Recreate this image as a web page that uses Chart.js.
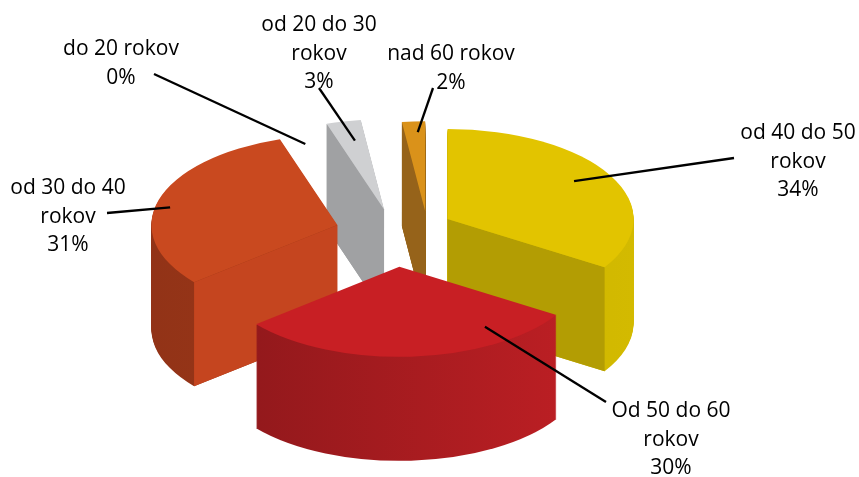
<!DOCTYPE html>
<html>
<head>
<meta charset="utf-8">
<title>Vekové skupiny</title>
<style>
    html, body { margin: 0; padding: 0; background: #fff; }
    #wrap { width: 859px; height: 477px; position: relative; }
</style>
</head>
<body>
<div id="wrap"><canvas id="canvasChart"></canvas></div>

<script src="https://cdn.jsdelivr.net/npm/chart.js"></script>
<script>
    // slices listed clockwise, starting at 12 o'clock
    const categories = ['od 40 do 50 rokov', 'Od 50 do 60 rokov', 'od 30 do 40 rokov', 'do 20 rokov', 'od 20 do 30 rokov', 'nad 60 rokov'];
    const shares = [34, 30, 31, 0, 3, 2];
    const labelLines = [['od 40 do 50', 'rokov'], ['Od 50 do 60', 'rokov'], ['od 30 do 40', 'rokov'], ['do 20 rokov'], ['od 20 do 30', 'rokov'], ['nad 60 rokov']];

    // look of the slices
    const topColors  = ['#E2C400', '#C81F24', '#C9491F', '#999999', '#CFD0D2', '#DA921A'];
    const sideColors = ['#B39D03', '#A81C20', '#C5451F', '#999999', '#A0A1A3', '#96631A'];
    const wallColors = [['#C2AA00', '#D3BA00'], ['#8E181B', '#BE1F24'], ['#923317', '#A53B1A'],
                        ['#999999', '#999999'], ['#9A9B9D', '#A6A7A9'], ['#8E5E14', '#9C6816']];
    const explode = [60, 70, 60, 0, 50, 45];   // pull-out of each slice, px
    const shiftX = [0, 0, 0, 0, 0, 33];        // extra sideways nudge (perspective in the original)
    const TILT = 0.484;                         // vertical squash of the top face
    const DEPTH = 104;                          // height of the cylinder, px

    // label placement: centre x / first baseline, start of the leader line,
    // and where the line meets the slice (degrees off the mid angle, fraction of radius)
    const labelAt = [[798, 139], [671, 417], [68, 194], [121, 55], [319, 31], [451, 60]];
    const lineFrom = [[734, 158], [606, 402], [107, 213], [154, 74], [319, 88], [433, 88]];
    const anchorShift = [-3, -31, -4, -8, 1, 1];
    const anchorRadius = [0.8, 0.81, 0.92, 1.1, 0.78, 0.88];
    const LINE_H = 28.5;

    function midAngle(arc) {
        return (arc.startAngle + arc.endAngle) / 2;
    }

    // centre of a pulled-out slice on the screen
    function apex(arc, i) {
        const m = midAngle(arc);
        return [arc.x + explode[i] * Math.cos(m) + shiftX[i], arc.y + TILT * explode[i] * Math.sin(m)];
    }

    // draw the library's arc element squashed, pulled out and shifted down by dy
    function paintArc(ctx, arc, i, fill, dy) {
        const m = midAngle(arc);
        ctx.save();
        ctx.translate(shiftX[i], dy);
        ctx.translate(arc.x, arc.y);
        ctx.scale(1, TILT);
        ctx.translate(-arc.x + explode[i] * Math.cos(m), -arc.y + explode[i] * Math.sin(m));
        if (Array.isArray(fill)) {
            const g = ctx.createLinearGradient(arc.x - arc.outerRadius, 0, arc.x + arc.outerRadius, 0);
            g.addColorStop(0, fill[0]);
            g.addColorStop(1, fill[1]);
            fill = g;
        }
        const saved = arc.options;
        arc.options = Object.assign({}, saved, {backgroundColor: fill, borderWidth: 0});
        arc.draw(ctx);
        arc.options = saved;
        ctx.restore();
    }

    // the flat cut faces of a pulled-out slice that look towards the viewer
    function paintCuts(ctx, arc, i) {
        const R = arc.outerRadius;
        const [ax, ay] = apex(arc, i);
        [[arc.startAngle, -1], [arc.endAngle, 1]].forEach(function(edge) {
            const t = edge[0];
            const visible = edge[1] < 0 ? Math.cos(t) < -1e-6 : Math.cos(t) > 1e-6;
            if (!visible) return;
            const bx = ax + R * Math.cos(t);
            const by = ay + TILT * R * Math.sin(t);
            ctx.beginPath();
            ctx.moveTo(ax, ay);
            ctx.lineTo(bx, by);
            ctx.lineTo(bx, by + DEPTH);
            ctx.lineTo(ax, ay + DEPTH);
            ctx.closePath();
            ctx.fillStyle = sideColors[i];
            ctx.fill();
        });
    }

    const pie3d = {
        id: 'pie3d',
        beforeDatasetsDraw(chart) {
            const ctx = chart.ctx;
            const arcs = chart.getDatasetMeta(0).data;
            // back slices first
            const order = arcs.map((a, i) => i).filter(i => shares[i] > 0)
                .sort((a, b) => Math.sin(midAngle(arcs[a])) - Math.sin(midAngle(arcs[b])));
            order.forEach(function(i) {
                const arc = arcs[i];
                for (let d = DEPTH; d >= 1; d--) {
                    paintArc(ctx, arc, i, wallColors[i], d);
                }
                paintCuts(ctx, arc, i);
                paintArc(ctx, arc, i, topColors[i], 0);
            });
            return false;
        },
        afterDraw(chart) {
            const ctx = chart.ctx;
            const arcs = chart.getDatasetMeta(0).data;
            ctx.save();
            ctx.font = '21px "Open Sans"';
            ctx.fillStyle = '#000';
            ctx.textAlign = 'center';
            ctx.textBaseline = 'alphabetic';
            arcs.forEach(function(arc, i) {
                const lines = labelLines[i].concat(shares[i] + '%');
                lines.forEach(function(t, j) {
                    ctx.fillText(t, labelAt[i][0], labelAt[i][1] + j * LINE_H);
                });
                const a = midAngle(arc) + anchorShift[i] * Math.PI / 180;
                const r = anchorRadius[i] * arc.outerRadius;
                const [ax, ay] = apex(arc, i);
                ctx.beginPath();
                ctx.moveTo(lineFrom[i][0], lineFrom[i][1]);
                ctx.lineTo(ax + r * Math.cos(a), ay + TILT * r * Math.sin(a));
                ctx.lineWidth = 2.3;
                ctx.strokeStyle = '#000';
                ctx.stroke();
            });
            ctx.restore();
        }
    };

    const chart = new Chart(document.getElementById('canvasChart'), {
        type: 'pie',
        data: {
            labels: categories,
            datasets: [{
                data: shares,
                backgroundColor: topColors,
                borderWidth: 0,
                radius: 186
            }]
        },
        options: {
            responsive: true,
            maintainAspectRatio: false,
            animation: false,
            events: [],
            layout: { padding: { left: 0, right: 69, top: 0, bottom: 11 } },
            plugins: {
                legend: { display: false },
                tooltip: { enabled: false }
            }
        },
        plugins: [pie3d]
    });
</script>
</body>
</html>
